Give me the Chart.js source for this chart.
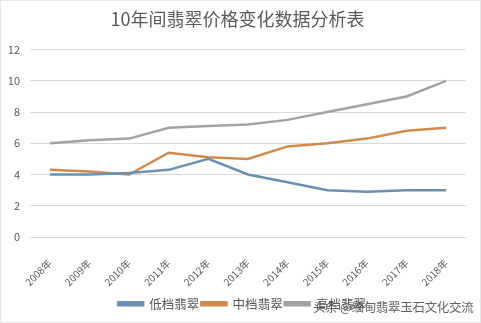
<!DOCTYPE html>
<html><head><meta charset="utf-8">
<script src="https://cdn.jsdelivr.net/npm/chart.js@4"></script>
<style>
html,body{margin:0;padding:0;background:#fff;}
#wrap{position:relative;width:481px;height:323px;box-sizing:border-box;border:1px solid #e6e6e6;}
#wm{position:absolute;left:312px;top:296px;font:12.5px "Noto Sans CJK SC";color:#3a3a3a;opacity:0.8;white-space:nowrap;letter-spacing:-0.3px;}
</style></head><body>
<div id="wrap"><canvas id="c" width="479" height="321"></canvas><div id="wm">头条 @缅甸翡翠玉石文化交流</div></div>
<script>
const categories=["2008年","2009年","2010年","2011年","2012年","2013年","2014年","2015年","2016年","2017年","2018年"];
const lowSeries=[4.0,4.0,4.1,4.3,5.0,4.0,3.5,3.0,2.9,3.0,3.0];
const midSeries=[4.3,4.2,4.0,5.4,5.1,5.0,5.8,6.0,6.3,6.8,7.0];
const highSeries=[6.0,6.2,6.3,7.0,7.1,7.2,7.5,8.0,8.5,9.0,10.0];
const seriesNames=["低档翡翠","中档翡翠","高档翡翠"];
const font='"Noto Sans CJK SC", sans-serif';
function ds(label,data,color){return {label,data,borderColor:color,backgroundColor:color,borderWidth:2.5,pointRadius:0,tension:0};}
const shiftLegend={id:'shiftLegend',afterLayout(c){c.legend.left+=9;}};
new Chart(document.getElementById('c'),{
type:'line',
data:{labels:categories,datasets:[ds(seriesNames[0],lowSeries,'#6a90b2'),ds(seriesNames[1],midSeries,'#cf8a4c'),ds(seriesNames[2],highSeries,'#a3a3a3')]},
plugins:[shiftLegend],
options:{responsive:false,animation:false,
layout:{padding:{left:8,right:14,top:0,bottom:2}},
plugins:{
title:{display:true,text:'10年间翡翠价格变化数据分析表',color:'#5a5a5a',font:{family:font,size:18,weight:'normal'},padding:{top:7,bottom:20}},
legend:{position:'bottom',labels:{color:'#555',font:{family:font,size:12.5},boxWidth:25,boxHeight:3,padding:2,useBorderRadius:false}},
tooltip:{enabled:false}},
scales:{
x:{offset:true,grid:{display:false},border:{display:false},ticks:{color:'#595959',font:{family:font,size:10},maxRotation:45,minRotation:45,padding:12},
  afterFit(s){s.paddingLeft=0;s.paddingRight=0;s.height=58.5;}},
y:{min:0,max:12,ticks:{stepSize:2,color:'#595959',font:{family:font,size:11},padding:10},grid:{color:'#d9d9d9',drawTicks:false},border:{display:false},
  afterFit(s){s.width=21;}}
}}});
</script></body></html>
